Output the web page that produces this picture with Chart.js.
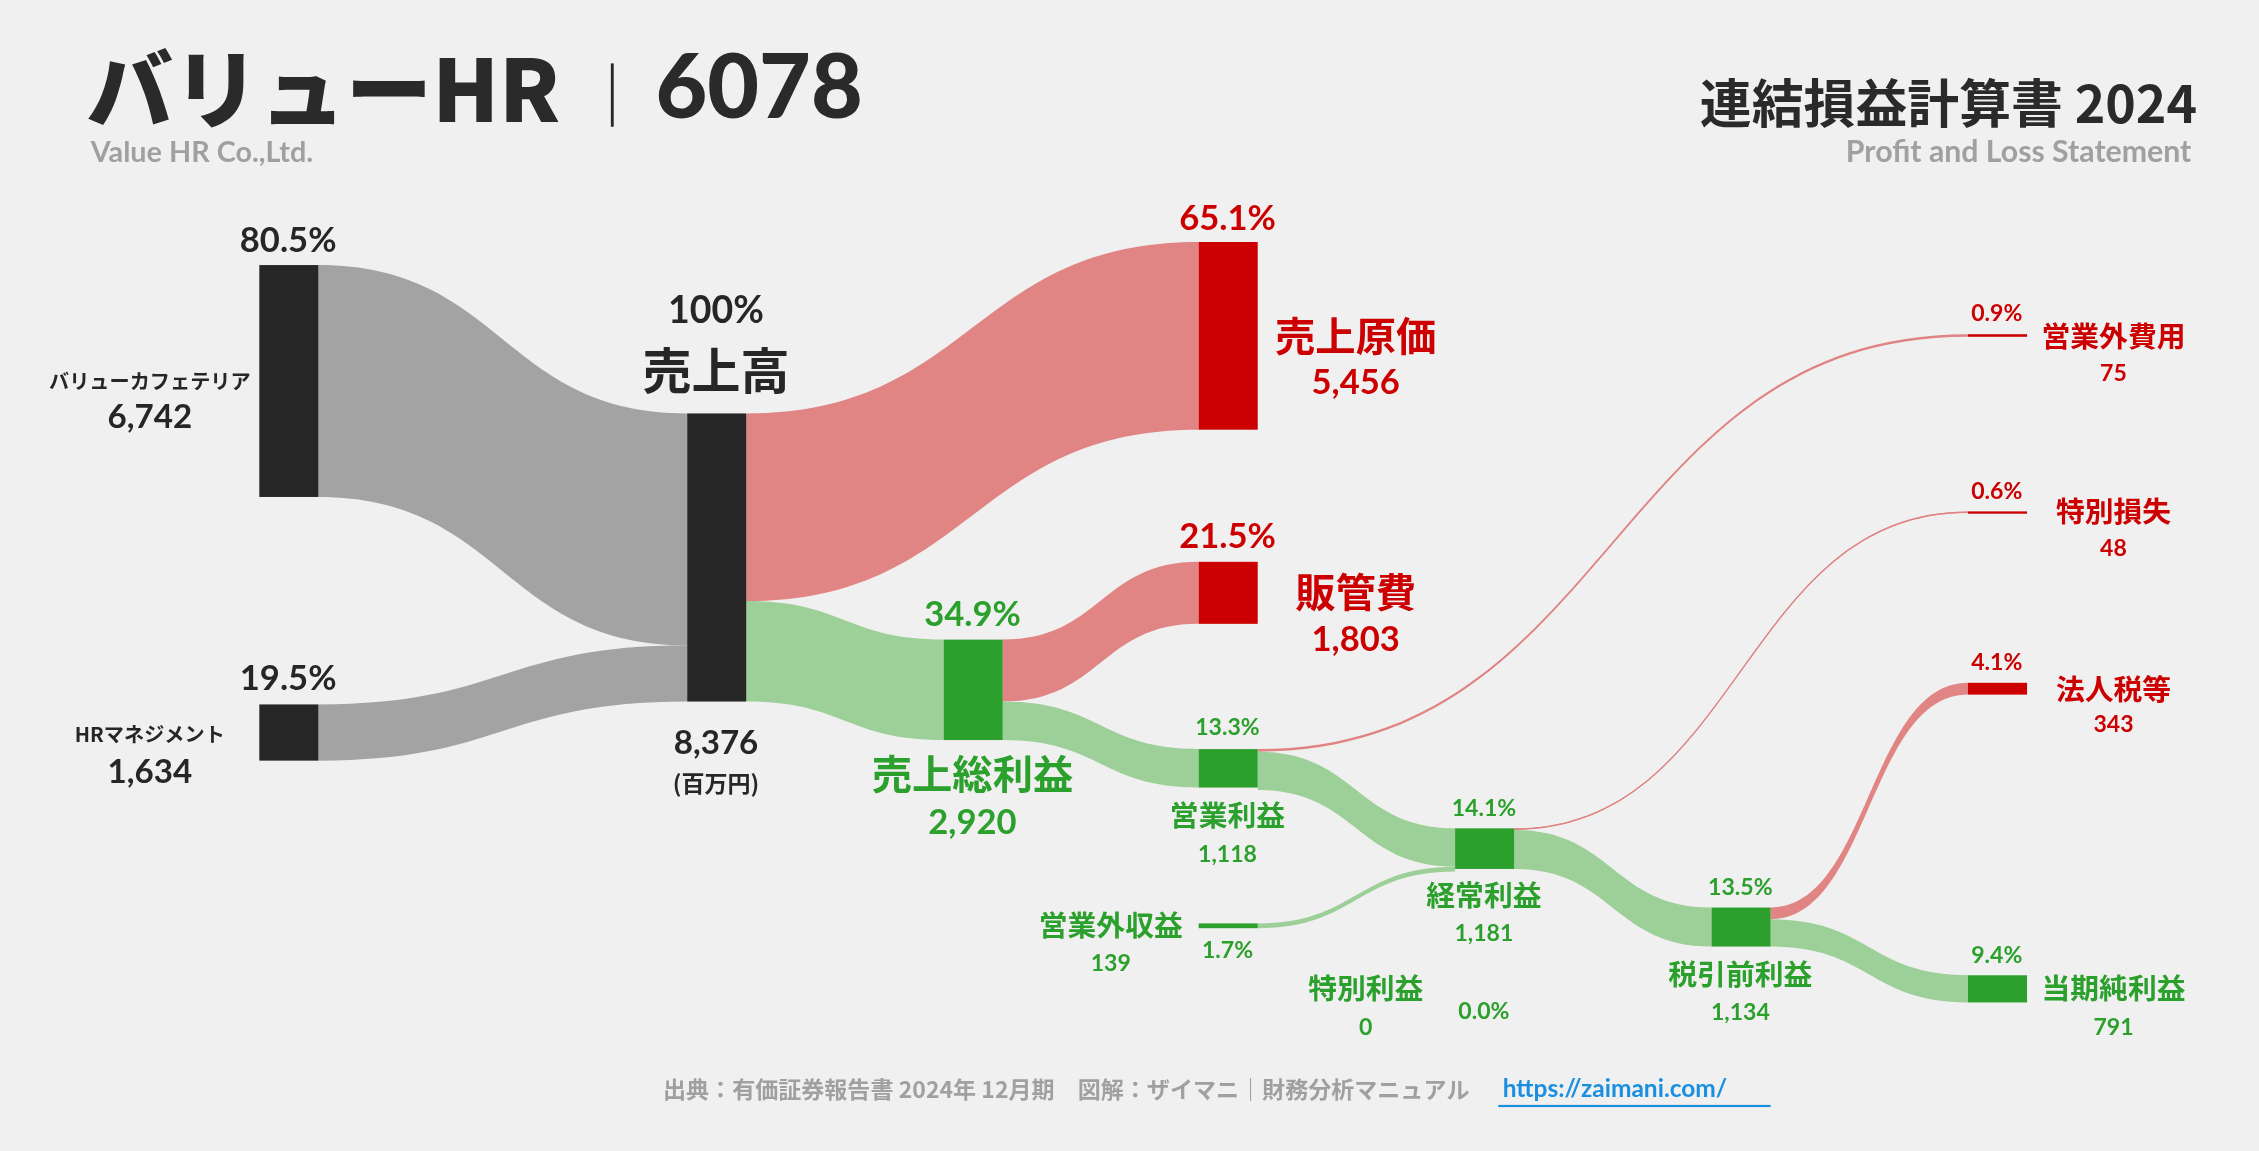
<!DOCTYPE html>
<html><head><meta charset="utf-8">
<script src="https://cdn.jsdelivr.net/npm/chart.js@4"></script>
<style>html,body{margin:0;padding:0;background:#f0f0f0;overflow:hidden}#wrap{width:2259px;height:1151px}</style>
</head><body><div id="wrap"><canvas id="c" width="2259" height="1151"></canvas></div>
<script>
// ---- data (百万円) ----
const nodeNames = ["バリューカフェテリア","HRマネジメント","売上高","売上原価","売上総利益","販管費","営業利益","営業外収益","営業外費用","経常利益","特別利益","特別損失","税引前利益","法人税等","当期純利益"];
const nodeValues = [6742,1634,8376,5456,2920,1803,1118,139,75,1181,0,48,1134,343,791];
const linkSources = [0,1,2,2,4,4,6,6,7,9,9,12,12];
const linkTargets = [2,2,3,4,5,6,8,9,9,11,12,13,14];
const linkValues  = [6742,1634,5456,2920,1803,1118,75,1118,139,48,1134,343,791];
const revenueTotal = 8376;

// ---- layout (reference units) ----
const nodeX   = [180,180,477,832,655,832,832,832,1366,1010,null,1366,1188,1366,1366];
const nodeTop = [184,489,287,168,444,390,520,641,232,575,null,355,630,474,677];
const nodeKind= ["k","k","k","r","g","r","g","g","r","g","g","r","g","r","g"];
const NODE_W = 41, K = 200/revenueTotal;
const COL = {k:"#262626", r:"#cc0000", g:"#2ca02c"};
const LINKCOL = {k:"#a3a3a3", r:"#e08584", g:"#9dcf98"};

const pct = v => (v/revenueTotal*100).toFixed(1)+"%";
const fmt = v => v.toLocaleString("en-US");
const JP = "'Noto Sans CJK JP'", LA = "Lato,'Noto Sans CJK JP'";

// label specs: [text, x, y, size, color, font, align]
function labels(){
  const L=[], R=COL.r, G=COL.g, D="#262626";
  L.push(["80.5%",200,167,24,D,LA],["バリューカフェテリア",104,265,14,D,JP],[fmt(nodeValues[0]),104,290,23,D,LA]);
  L.push([pct(nodeValues[1]),200,471,24,D,LA],["HRマネジメント",104,510,14,D,JP],[fmt(nodeValues[1]),104,536,23,D,LA]);
  L.push(["100%",497,216,26,D,LA],["売上高",497,257,34,D,JP],[fmt(nodeValues[2]),497,516,23,D,LA],["(百万円)",497,544,16,D,JP]);
  L.push([pct(nodeValues[3]),852,152,24,R,LA],["売上原価",941,233,28,R,JP],[fmt(nodeValues[3]),941,266,24,R,LA]);
  L.push([pct(nodeValues[5]),852,373,24,R,LA],["販管費",941,411,28,R,JP],[fmt(nodeValues[5]),941,444,24,R,LA]);
  L.push([pct(nodeValues[4]),675,427,24,G,LA],["売上総利益",675,537,28,G,JP],[fmt(nodeValues[4]),675,571,24,G,LA]);
  L.push([pct(nodeValues[6]),852,505,16,G,LA],["営業利益",852,566,20,G,JP],[fmt(nodeValues[6]),852,593,16,G,LA]);
  L.push(["営業外収益",771,642,20,G,JP],[fmt(nodeValues[7]),771,669,16,G,LA],[pct(nodeValues[7]),852,660,16,G,LA]);
  L.push([pct(nodeValues[8]),1386,218,16,R,LA],["営業外費用",1467,233,20,R,JP],[fmt(nodeValues[8]),1467,259,16,R,LA]);
  L.push([pct(nodeValues[11]),1386,341,16,R,LA],["特別損失",1467,355,20,R,JP],[fmt(nodeValues[11]),1467,381,16,R,LA]);
  L.push([pct(nodeValues[13]),1386,460,16,R,LA],["法人税等",1467,478,20,R,JP],[fmt(nodeValues[13]),1467,503,16,R,LA]);
  L.push([pct(nodeValues[14]),1386,663,16,G,LA],["当期純利益",1467,686,20,G,JP],[fmt(nodeValues[14]),1467,713,16,G,LA]);
  L.push([pct(nodeValues[9]),1030,561,16,G,LA],["経常利益",1030,621,20,G,JP],[fmt(nodeValues[9]),1030,648,16,G,LA]);
  L.push([pct(nodeValues[12]),1208,616,16,G,LA],["税引前利益",1208,676,20,G,JP],[fmt(nodeValues[12]),1208,703,16,G,LA]);
  L.push(["特別利益",948,686,20,G,JP],[fmt(nodeValues[10]),948,713,16,G,LA],[pct(nodeValues[10]),1030,702,16,G,LA]);
  return L;
}

const sankey = {
  id:"sankey",
  beforeDraw(chart){
    const ctx=chart.ctx, xs=chart.scales.x, ys=chart.scales.y;
    const X=v=>xs.getPixelForValue(v), Y=v=>ys.getPixelForValue(v), S=chart.width/1568;
    ctx.save();
    ctx.fillStyle="#f0f0f0"; ctx.fillRect(0,0,chart.width,chart.height);
    // links
    const outOff=nodeValues.map(()=>0), inOff=nodeValues.map(()=>0);
    linkValues.forEach((v,i)=>{
      const s=linkSources[i], t=linkTargets[i];
      const sy=nodeTop[s]+outOff[s]*K, ty=nodeTop[t]+inOff[t]*K, h=v*K;
      outOff[s]+=v; inOff[t]+=v;
      const x0=X(nodeX[s]+NODE_W), x1=X(nodeX[t]), xm=(x0+x1)/2;
      const kind = nodeKind[t]==="r" ? "r" : (nodeKind[s]==="k"&&nodeKind[t]==="k" ? "k" : (s===2?"g":nodeKind[t]));
      ctx.fillStyle=LINKCOL[kind];
      ctx.beginPath();
      ctx.moveTo(x0,Y(sy));
      ctx.bezierCurveTo(xm,Y(sy),xm,Y(ty),x1,Y(ty));
      ctx.lineTo(x1,Y(ty+h));
      ctx.bezierCurveTo(xm,Y(ty+h),xm,Y(sy+h),x0,Y(sy+h));
      ctx.closePath(); ctx.fill();
      if(h<2.5){ctx.strokeStyle=LINKCOL[kind];ctx.lineWidth=1.2;ctx.beginPath();ctx.moveTo(x0,Y(sy+h/2));ctx.bezierCurveTo(xm,Y(sy+h/2),xm,Y(ty+h/2),x1,Y(ty+h/2));ctx.stroke();}
    });
    // nodes
    nodeValues.forEach((v,i)=>{
      if(nodeX[i]===null||v===0) return;
      ctx.fillStyle=COL[nodeKind[i]];
      const h=Math.max(v*K,1.6);
      ctx.fillRect(X(nodeX[i]),Y(nodeTop[i]),X(nodeX[i]+NODE_W)-X(nodeX[i]),Y(nodeTop[i]+h)-Y(nodeTop[i]));
    });
    // labels
    ctx.textBaseline="middle";
    labels().forEach(([t,x,y,sz,c,f,al])=>{
      ctx.font=`bold ${sz*S}px ${f}`; ctx.fillStyle=c; ctx.textAlign=al||"center";
      ctx.fillText(t,X(x),Y(y));
    });
    // header
    ctx.textAlign="left"; ctx.fillStyle="#2a2a2a";
    ctx.font=`900 ${60*S}px ${JP}`;
    ctx.fillText("バリューHR",X(60),Y(62));
    ctx.fillRect(X(424),Y(44),2*S,Y(88)-Y(44));
    ctx.font=`900 ${62*S}px Lato,${JP}`;
    ctx.fillText("6078",X(455),Y(62));
    ctx.fillStyle="#a0a0a0"; ctx.font=`bold ${20*S}px Lato`;
    ctx.fillText("Value HR Co.,Ltd.",X(63),Y(106));
    ctx.textAlign="right"; ctx.fillStyle="#2a2a2a"; ctx.font=`bold ${36*S}px ${JP}`;
    ctx.fillText("連結損益計算書 2024",X(1525),Y(72));
    ctx.fillStyle="#a0a0a0"; ctx.font=`bold ${21*S}px Lato`;
    ctx.fillText("Profit and Loss Statement",X(1521),Y(106));
    // footer
    ctx.textAlign="right"; ctx.font=`bold ${16*S}px ${JP}`; ctx.fillStyle="#a0a0a0";
    ctx.fillText("出典：有価証券報告書 2024年 12月期　図解：ザイマニ｜財務分析マニュアル",X(1020),Y(756));
    ctx.textAlign="left"; ctx.fillStyle="#1a8fe0"; ctx.font=`bold ${17*S}px Lato`;
    ctx.fillText("https://zaimani.com/",X(1043),Y(756));
    ctx.fillRect(X(1040),Y(767),X(1229)-X(1040),1.5*S);
    ctx.restore();
  }
};

new Chart(document.getElementById("c"),{
  type:"scatter",
  data:{datasets:[{data:[],pointRadius:0}]},
  options:{responsive:false,animation:false,devicePixelRatio:1,
    layout:{padding:0},
    plugins:{legend:{display:false},tooltip:{enabled:false}},
    scales:{x:{type:"linear",min:0,max:1568,display:false},y:{type:"linear",min:0,max:799,reverse:true,display:false}}},
  plugins:[sankey]
});
</script></body></html>
